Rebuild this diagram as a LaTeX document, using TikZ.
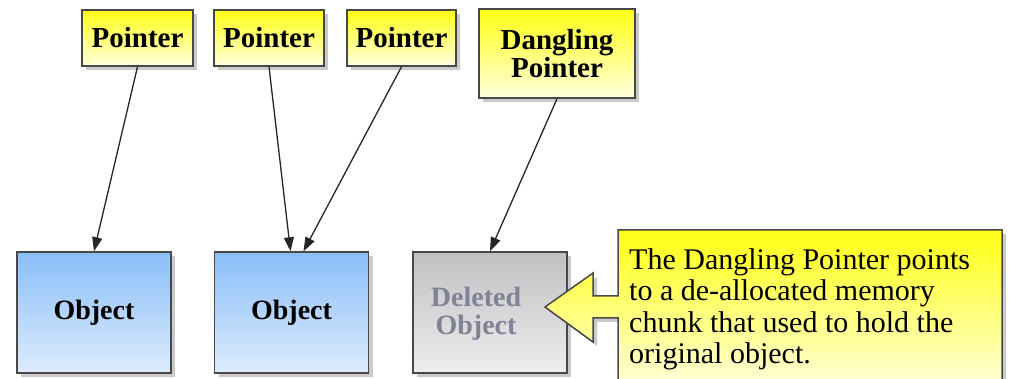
\documentclass[tikz,border=0pt]{standalone}
\usepackage{fontspec}
\setmainfont{Liberation Serif}
\usetikzlibrary{shadows,arrows.meta,calc}

\definecolor{edge}{RGB}{72,72,72}
\definecolor{ytop}{RGB}{255,255,20}
\definecolor{ybot}{RGB}{255,255,222}
\definecolor{btop}{RGB}{138,190,250}
\definecolor{bbot}{RGB}{222,236,252}
\definecolor{gtop}{RGB}{192,192,194}
\definecolor{gbot}{RGB}{238,238,240}
\definecolor{deadtext}{RGB}{128,130,150}

\tikzset{
  shadowed/.style={drop shadow={shadow xshift=4pt, shadow yshift=-4pt,
      opacity=0.35, fill=black!60}},
  box/.style={draw=edge, line width=1.5pt, align=center, inner sep=0pt,
      shadowed},
  ptr/.style={box, top color=ytop, bottom color=ybot,
      font=\bfseries\fontsize{29}{26}\selectfont, minimum height=56pt},
  obj/.style={box, top color=btop, bottom color=bbot,
      font=\bfseries\fontsize{28}{28}\selectfont,
      minimum width=154pt, minimum height=121pt},
  dead/.style={obj, top color=gtop, bottom color=gbot},
  label/.style={align=center, inner sep=0pt, text=deadtext,
      font=\bfseries\fontsize{28}{28}\selectfont},
  link/.style={-{Triangle[length=14pt,width=10pt]}, line width=1.3pt,
      black!85},
}

\begin{document}
\begin{tikzpicture}[x=1pt,y=-1pt]
\useasboundingbox (0,0) rectangle (1010,379);
\clip (0,0) rectangle (1010,379);

% pointers
\node[ptr, minimum width=111pt] (p1) at (137.5,38) {Pointer};
\node[ptr, minimum width=110pt] (p2) at (269,38) {Pointer};
\node[ptr, minimum width=109pt] (p3) at (401.5,38) {Pointer};
\node[ptr, minimum width=156pt, minimum height=89pt] (dp) at (557,53.5)
  {Dangling\\Pointer};

% objects
\node[obj] (o1) at (94,312.5) {Object};
\node[obj] (o2) at (291.5,312.5) {Object};
\node[dead] (o3) at (490,312.5) {};
\node[label] (o3text) at (476,314) {Deleted\\Object};

% references
\coordinate (o2a) at ($(o2.north)+(-1,0)$);
\coordinate (o2b) at ($(o2.north)+(12,0)$);
\draw[link] (p1.south) -- (o1.north);
\draw[link] (p2.south) -- (o2a);
\draw[link] (p3.south) -- (o2b);
\draw[link] (dp.south) -- (o3.north);

% callout with arrow pointing at the deleted object
\path[draw=edge, line width=1.5pt, top color=ytop, bottom color=ybot, shadowed]
  (618,230) -- (1002,230) -- (1002,390) -- (618,390) -- (618,318)
  -- (593,318) -- (593,342) -- (545,307) -- (593,273) -- (593,296)
  -- (618,296) -- cycle;
\node[anchor=north west, align=left, inner sep=0pt,
      font=\fontsize{30}{31.5}\selectfont] (note) at (629,248)
  {The Dangling Pointer points\\to a de-allocated memory\\chunk that used to hold the\\original object.};
\end{tikzpicture}
\end{document}
